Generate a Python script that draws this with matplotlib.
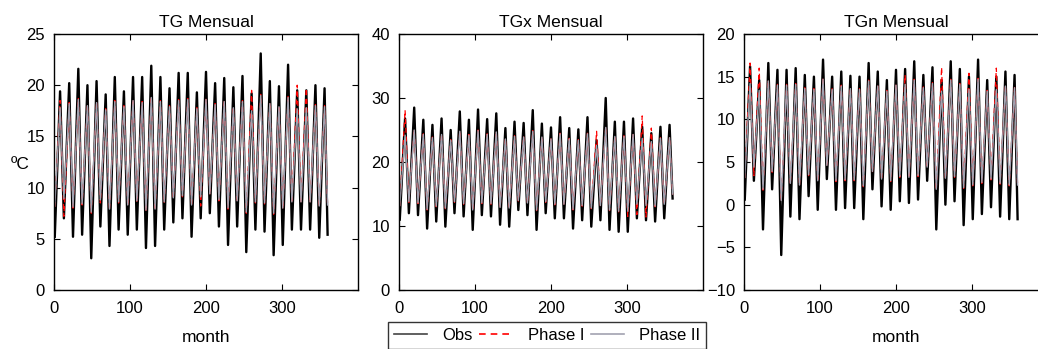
import numpy as np
import matplotlib.pyplot as plt

plt.rcParams['font.family'] = ['Liberation Sans', 'DejaVu Sans']

# yearly lows (January, plus the last December value) and highs (August)
# 30 years of monthly data
trough_month = np.arange(1, 360, 12)
peak_month = np.arange(8, 360, 12)
last_month = 360

# --- TG ---
tg_obs_peak = [19.4, 20.2, 21.6, 20.0, 20.4, 19.1, 20.8, 19.4, 20.8, 20.8, 21.9, 20.8, 19.7, 21.2, 21.2,
               19.3, 21.3, 20.2, 20.7, 19.8, 20.9, 19.2, 23.1, 20.4, 19.9, 22.0, 19.5, 19.5, 20.0, 19.7]
tg_obs_trough = [5.2, 7.0, 5.2, 5.4, 3.1, 6.2, 4.3, 5.9, 5.4, 5.9, 4.1, 4.3, 5.9, 6.6, 7.0, 5.2,
                 7.0, 7.5, 6.2, 4.4, 6.2, 3.7, 5.9, 5.7, 3.4, 4.4, 5.9, 5.9, 5.9, 5.1, 5.4]
tg_p1_peak = [18.5, 18.3, 18.7, 18.1, 18.4, 17.7, 18.5, 18.0, 18.6, 18.4, 18.9, 18.5, 18.0, 18.6, 18.7,
              17.8, 18.7, 18.2, 18.5, 17.9, 18.5, 19.5, 19.1, 18.3, 18.0, 18.9, 20.0, 19.7, 18.1, 18.0]
tg_p1_trough = [8.1, 7.2, 8.0, 8.3, 7.5, 8.5, 7.8, 8.5, 8.2, 8.6, 7.7, 7.8, 8.5, 8.9, 9.1, 8.2,
                8.2, 9.3, 8.7, 7.9, 8.6, 7.5, 8.5, 8.4, 7.4, 7.9, 8.5, 8.5, 8.5, 8.1, 8.2]
tg_p2_peak = [17.8, 18.2, 18.6, 18.0, 18.3, 17.6, 18.4, 17.9, 18.5, 18.3, 18.8, 18.4, 17.9, 18.5, 18.6,
              17.7, 18.6, 18.1, 18.4, 17.8, 18.4, 17.5, 19.0, 18.2, 17.9, 18.8, 17.7, 17.8, 18.0, 17.9]
tg_p2_trough = [8.2, 8.9, 8.1, 8.4, 7.6, 8.8, 7.9, 8.6, 8.3, 8.7, 7.8, 7.9, 8.6, 9.0, 9.2, 8.3,
                9.1, 9.4, 8.8, 8.0, 8.7, 7.6, 8.6, 8.5, 7.5, 8.0, 8.6, 8.6, 8.6, 8.2, 8.3]

# --- TGx ---
tgx_obs_peak = [26.8, 28.5, 26.6, 25.8, 26.8, 25.0, 27.9, 26.6, 28.2, 26.7, 27.6, 25.3, 26.3, 26.1, 28.1,
                26.0, 25.4, 27.0, 25.3, 25.1, 27.0, 23.4, 30.0, 26.3, 26.3, 26.8, 25.5, 24.5, 25.5, 25.8]
tgx_obs_trough = [11.0, 12.0, 11.7, 9.6, 10.7, 9.9, 12.0, 11.5, 9.4, 11.7, 11.5, 10.2, 9.9, 12.5, 11.7, 9.4,
                  12.0, 11.2, 11.2, 9.6, 10.9, 9.9, 10.9, 9.4, 9.1, 9.1, 11.2, 10.9, 10.7, 11.2, 14.3]
tgx_p1_peak = [28.1, 25.1, 24.4, 23.9, 24.4, 23.5, 24.9, 24.3, 25.0, 24.4, 24.8, 23.7, 24.1, 24.0, 24.9,
               24.0, 23.7, 24.5, 23.7, 23.5, 24.5, 24.8, 25.5, 24.1, 24.1, 24.4, 27.2, 25.3, 23.8, 23.9]
tgx_p1_trough = [13.1, 13.7, 13.5, 12.5, 13.0, 12.7, 13.7, 13.4, 12.4, 13.5, 13.4, 12.8, 12.7, 13.9, 13.5, 12.4,
                 13.7, 13.3, 13.3, 12.5, 13.1, 12.7, 13.1, 12.4, 12.2, 11.5, 11.8, 11.4, 13.0, 13.3, 14.9]
tgx_p2_peak = [24.2, 25.0, 24.3, 23.8, 24.3, 23.4, 24.8, 24.2, 24.9, 24.3, 24.7, 23.6, 24.0, 23.9, 24.8,
               23.9, 23.6, 24.4, 23.6, 23.4, 24.4, 22.6, 25.4, 24.0, 24.0, 24.3, 23.7, 23.2, 23.7, 23.8]
tgx_p2_trough = [13.2, 13.8, 13.6, 12.6, 13.1, 12.8, 13.8, 13.5, 12.5, 13.6, 13.5, 12.9, 12.8, 14.0, 13.6, 12.5,
                 13.8, 13.4, 13.4, 12.6, 13.2, 12.8, 13.2, 12.5, 12.3, 12.3, 13.4, 13.2, 13.1, 13.4, 15.0]

# --- TGn ---
tgn_obs_peak = [16.2, 14.6, 16.6, 15.8, 15.8, 16.0, 15.2, 15.0, 17.0, 15.0, 15.6, 15.1, 15.0, 16.6, 15.6,
                14.6, 15.8, 15.9, 16.8, 15.2, 16.1, 14.6, 16.8, 15.9, 15.0, 17.0, 14.6, 15.0, 15.6, 15.2]
tgn_obs_trough = [0.6, 2.8, -2.9, 1.8, -5.9, -1.4, -1.7, 1.0, -0.6, 3.0, -0.6, -0.4, -0.4, -1.7, 1.8, -0.2,
                  -0.6, 0.4, 0.2, 0.6, 2.8, -2.9, 0.0, 0.4, -2.4, -1.7, -1.1, -0.3, -1.4, -1.7, -1.7]
tgn_p1_peak = [16.6, 16.0, 14.6, 14.1, 14.1, 14.2, 13.7, 13.6, 14.8, 13.6, 14.0, 13.7, 13.6, 14.6, 14.0,
               13.4, 14.1, 15.2, 14.7, 13.8, 14.3, 16.1, 14.7, 14.2, 15.4, 14.8, 13.4, 16.0, 14.0, 13.8]
tgn_p1_trough = [3.1, 3.4, 1.7, 3.8, 0.4, 2.4, 2.2, 3.4, 2.7, 4.5, 2.7, 2.8, 2.8, 2.1, 3.8, 2.9,
                 2.7, 3.2, 3.1, 3.3, 4.3, 1.7, 3.0, 3.2, 1.9, 2.2, 2.5, 2.9, 2.4, 2.2, 2.2]
tgn_p2_peak = [14.2, 13.4, 14.5, 14.0, 14.0, 14.1, 13.6, 13.5, 14.7, 13.5, 13.9, 13.6, 13.5, 14.5, 13.9,
               13.3, 14.0, 14.1, 14.6, 13.7, 14.2, 13.3, 14.6, 14.1, 13.5, 14.7, 13.3, 13.5, 13.9, 13.7]
tgn_p2_trough = [3.2, 4.4, 1.8, 3.9, 0.5, 2.5, 2.3, 3.5, 2.8, 4.6, 2.8, 2.9, 2.9, 2.2, 3.9, 3.0,
                 2.8, 3.3, 3.2, 3.4, 4.4, 1.8, 3.1, 3.3, 2.0, 2.3, 2.6, 3.0, 2.5, 2.3, 2.3]

panels = [
    ('TG Mensual', (0, 25), np.arange(0, 26, 5), 'month',
     (tg_obs_trough, tg_obs_peak), (tg_p1_trough, tg_p1_peak), (tg_p2_trough, tg_p2_peak)),
    ('TGx Mensual', (0, 40), np.arange(0, 41, 10), None,
     (tgx_obs_trough, tgx_obs_peak), (tgx_p1_trough, tgx_p1_peak), (tgx_p2_trough, tgx_p2_peak)),
    ('TGn Mensual', (-10, 20), np.arange(-10, 21, 5), 'month',
     (tgn_obs_trough, tgn_obs_peak), (tgn_p1_trough, tgn_p1_peak), (tgn_p2_trough, tgn_p2_peak)),
]


def zigzag(trough, peak):
    # join lows and highs in time order
    x = np.empty(61)
    y = np.empty(61)
    x[0:60:2] = trough_month
    x[1:60:2] = peak_month
    x[60] = last_month
    y[0:60:2] = trough[:30]
    y[1:60:2] = peak
    y[60] = trough[30]
    return x, y


fig = plt.figure(figsize=(10.38, 3.49), dpi=100)
lefts = [54, 399, 744]

handles = None
for left, (title, ylim, yticks, xlabel, obs, p1, p2) in zip(lefts, panels):
    ax = fig.add_axes([left / 1038, 59 / 349, 304 / 1038, 256 / 349])
    x, y = zigzag(*obs)
    h1, = ax.plot(x, y, color='black', lw=1.7, label='Obs')
    x, y = zigzag(*p1)
    h2, = ax.plot(x, y, color='red', lw=0.9, ls=(0, (4, 3)), label='Phase I')
    x, y = zigzag(*p2)
    h3, = ax.plot(x, y, color='#a2a2b0', lw=1.0, label='Phase II')
    handles = [h1, h2, h3]

    ax.set_xlim(0, 400)
    ax.set_ylim(*ylim)
    ax.set_xticks([0, 100, 200, 300])
    ax.set_yticks(yticks)
    ax.tick_params(direction='in', top=True, right=True, length=4, labelsize=12)
    ax.tick_params(axis='x', pad=8)
    ax.tick_params(axis='y', pad=6.5)
    for s in ax.spines.values():
        s.set_linewidth(1.0)
    ax.set_title(title, fontsize=12.5, pad=5)
    if xlabel:
        ax.set_xlabel(xlabel, fontsize=12.5, labelpad=10)

fig.text(20 / 1038, 1 - 165 / 349, 'ºC', fontsize=12.5, ha='center', va='center')

leg = fig.legend(handles, ['Obs', 'Phase I', 'Phase II'], loc='upper left',
                 bbox_to_anchor=(388 / 1038, 1 - 322 / 349), ncol=3, fontsize=12,
                 frameon=True, fancybox=False, handlelength=2.0, columnspacing=0.4,
                 handletextpad=0.9, borderpad=0.35, borderaxespad=0)
leg.get_frame().set_edgecolor('black')
leg.get_frame().set_linewidth(1.0)
for line in leg.get_lines():
    line.set_linewidth(1.2)
leg.get_lines()[0].set_color('#444444')

fig.savefig('out.png', dpi=100)
